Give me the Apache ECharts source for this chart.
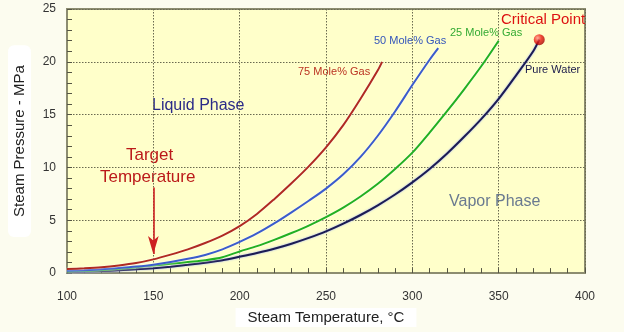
<!DOCTYPE html>
<html>
<head>
<meta charset="utf-8">
<script src="https://cdn.jsdelivr.net/npm/echarts@6/dist/echarts.min.js"></script>
<style>
html,body{margin:0;padding:0;background:#fcfcef;}
#c{width:624px;height:332px;}
</style>
</head>
<body>
<div id="c"></div>
<script>
// Data (temperature °C, pressure MPa)
const pureWater = [[100,0.10],[110,0.14],[120,0.20],[130,0.27],[140,0.36],[150,0.47],[160,0.61],[170,0.78],[180,0.98],[190,1.22],[200,1.55],[210,1.90],[220,2.30],[230,2.78],[240,3.33],[250,3.95],[260,4.68],[270,5.50],[280,6.42],[290,7.44],[300,8.59],[310,9.86],[320,11.3],[330,12.9],[340,14.6],[350,16.5],[360,18.7],[370,21.0],[373.5,22.1]];
const gas25 = [[100,0.15],[110,0.22],[120,0.30],[130,0.42],[140,0.56],[150,0.72],[160,0.88],[170,1.05],[180,1.22],[190,1.50],[200,2.05],[210,2.55],[220,3.15],[230,3.80],[240,4.50],[250,5.30],[260,6.20],[270,7.25],[280,8.45],[290,9.85],[300,11.4],[310,13.3],[320,15.3],[330,17.4],[340,19.6],[350,22.0]];
const gas50 = [[100,0.22],[110,0.28],[120,0.36],[130,0.48],[140,0.62],[150,0.80],[160,1.05],[170,1.35],[180,1.72],[190,2.25],[200,2.95],[210,3.75],[220,4.70],[230,5.75],[240,6.85],[250,8.00],[260,9.35],[270,11.0],[280,13.0],[290,15.3],[300,17.8],[310,20.2],[315,21.3]];
const gas75 = [[100,0.38],[110,0.45],[120,0.55],[130,0.72],[140,0.95],[150,1.30],[160,1.75],[170,2.25],[180,2.85],[190,3.55],[200,4.45],[210,5.60],[220,7.00],[230,8.50],[240,10.1],[250,11.9],[260,14.0],[270,16.5],[280,19.2],[282.5,20.0]];
const criticalPoint = [[373.5,22.1]];
const targetTemp = 150;
const arrowFrom = 8.1, arrowTo = 1.8;
const xTicks = {min:100, max:400, interval:50};
const yTicks = {min:0, max:25, interval:5};

const FONT = '"Liberation Sans", Arial, sans-serif';
const chart = echarts.init(document.getElementById('c'), null, {renderer:'canvas'});

function curve(name, data, color, halo){
  return {
    name, type:'line', data, symbol:'none', smooth:0.3,
    lineStyle:{color, width:2, shadowColor:halo, shadowBlur:2},
    z:3
  };
}

const option = {
  backgroundColor:'#fcfcef',
  animation:false,
  textStyle:{fontFamily:FONT},
  grid:{left:64, right:39, top:9, bottom:58, show:true, backgroundColor:'#ffffca', borderColor:'#8c8c70', borderWidth:2},
  xAxis:{
    type:'value', min:xTicks.min, max:xTicks.max, interval:xTicks.interval,
    name:'Steam Temperature, \u00B0C', nameLocation:'middle', nameGap:34,
    nameTextStyle:{fontSize:15, color:'#222', fontFamily:FONT, backgroundColor:'#ffffff', padding:[2,12,2,12]},
    axisLine:{lineStyle:{color:'#8c8c70', width:2}},
    axisTick:{show:true, inside:true, length:5, lineStyle:{color:'#555544'}},
    minorTick:{show:true, splitNumber:5, length:5, lineStyle:{color:'#555544', width:1}},
    axisLabel:{fontSize:12, color:'#333', margin:18, fontFamily:FONT},
    splitLine:{show:true, lineStyle:{color:'#6a6a50', type:[1.5,1.5], width:1}}
  },
  yAxis:{
    type:'value', min:yTicks.min, max:yTicks.max, interval:yTicks.interval,
    name:'Steam Pressure - MPa', nameLocation:'middle', nameGap:36,
    nameTextStyle:{fontSize:15, color:'#222', fontFamily:FONT, backgroundColor:'#ffffff', padding:[4,20,4,20], borderRadius:6},
    axisLine:{show:true, lineStyle:{color:'#8c8c70', width:2}},
    axisTick:{show:true, inside:true, length:5, lineStyle:{color:'#555544'}},
    minorTick:{show:true, splitNumber:5, length:5, lineStyle:{color:'#555544', width:1}},
    axisLabel:{fontSize:12, color:'#333', margin:11, fontFamily:FONT},
    splitLine:{show:true, lineStyle:{color:'#6a6a50', type:[1.5,1.5], width:1}}
  },
  series:[
    curve('Pure Water', pureWater, '#1c1c52', 'rgba(140,160,255,0.9)'),
    curve('25 Mole% Gas', gas25, '#22b022', 'rgba(255,255,255,0.9)'),
    curve('50 Mole% Gas', gas50, '#3b5ccc', 'rgba(255,255,255,0.9)'),
    Object.assign(curve('75 Mole% Gas', gas75, '#b02a22', 'rgba(255,255,255,0.9)'), {
      markLine:{
        silent:true, symbol:['none','arrow'], symbolSize:[8,18],
        label:{show:false},
        lineStyle:{color:'#cc2020', width:1.6, type:'solid'},
        data:[[{coord:[targetTemp, arrowFrom]},{coord:[targetTemp, arrowTo]}]]
      }
    }),
    {
      type:'scatter', data:criticalPoint, symbolSize:11, z:5,
      itemStyle:{color:{type:'radial', x:0.35, y:0.35, r:0.7, colorStops:[{offset:0,color:'#ff9a8a'},{offset:0.5,color:'#ee1a10'},{offset:1,color:'#a00000'}]}}
    }
  ],
  graphic:[
    {type:'text', left:501, top:12, style:{text:'Critical Point', fill:'#dd1111', font:'15px '+FONT}},
    {type:'text', left:525, top:64, style:{text:'Pure Water', fill:'#1a1a4a', font:'11px '+FONT}},
    {type:'text', left:450, top:27, style:{text:'25 Mole% Gas', fill:'#33aa33', font:'11px '+FONT}},
    {type:'text', left:374, top:35, style:{text:'50 Mole% Gas', fill:'#3355bb', font:'11px '+FONT}},
    {type:'text', left:298, top:66, style:{text:'75 Mole% Gas', fill:'#bb3322', font:'11px '+FONT}},
    {type:'text', left:152, top:98, style:{text:'Liquid Phase', fill:'#2a2a88', font:'16px '+FONT}},
    {type:'text', left:126, top:147, style:{text:'Target', fill:'#bb1a1a', font:'17px '+FONT}},
    {type:'text', left:100, top:169, style:{text:'Temperature', fill:'#bb1a1a', font:'17px '+FONT}},
    {type:'text', left:449, top:194, style:{text:'Vapor Phase', fill:'#6a7a90', font:'16px '+FONT}}
  ]
};
chart.setOption(option);
</script>
</body>
</html>
